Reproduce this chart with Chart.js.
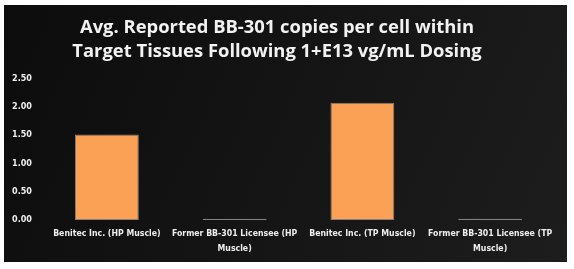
<!DOCTYPE html>
<html>
<head>
<meta charset="utf-8">
<script src="https://cdn.jsdelivr.net/npm/chart.js@4.4.1/dist/chart.umd.min.js"></script>
<style>
html,body{margin:0;padding:0;background:#fff;}
#wrap{width:574px;height:269px;position:relative;}
</style>
</head>
<body>
<div id="wrap"><canvas id="c" width="574" height="269"></canvas></div>
<script>
const titleLines = ["Avg. Reported BB-301 copies per cell within", "Target Tissues Following 1+E13 vg/mL Dosing"];
const categories = [
  ["Benitec Inc. (HP Muscle)"],
  ["Former BB-301 Licensee (HP", "Muscle)"],
  ["Benitec Inc. (TP Muscle)"],
  ["Former BB-301 Licensee (TP", "Muscle)"]
];
const copiesPerCell = [1.51, 0.02, 2.07, 0.02];
const yTicks = [0, 0.5, 1.0, 1.5, 2.0, 2.5];

const panelBg = {
  id: 'panelBg',
  beforeDraw(chart) {
    const ctx = chart.ctx;
    ctx.save();
    ctx.fillStyle = '#ffffff';
    ctx.fillRect(0, 0, chart.width, chart.height);
    const g = ctx.createLinearGradient(4, 5, 567, 262);
    g.addColorStop(0, '#0c0c0c');
    g.addColorStop(1, '#1d1d1d');
    ctx.fillStyle = g;
    ctx.fillRect(4, 5, 563, 257);
    ctx.restore();
  }
};

const labelFont = "'DejaVu Sans Condensed','Open Sans',sans-serif";

new Chart(document.getElementById('c'), {
  type: 'bar',
  data: {
    labels: categories,
    datasets: [{
      data: copiesPerCell,
      backgroundColor: '#fba155',
      borderColor: '#858078',
      borderWidth: 1,
      borderSkipped: false,
      categoryPercentage: 1.0,
      barPercentage: 0.5
    }]
  },
  options: {
    responsive: false,
    animation: false,
    devicePixelRatio: 1,
    layout: { padding: { left: 0, right: 20, top: 0, bottom: 0 } },
    plugins: {
      legend: { display: false },
      tooltip: { enabled: false },
      title: {
        display: true,
        text: titleLines,
        color: '#f2f2f2',
        font: { family: "'Open Sans',sans-serif", size: 18.4, weight: 'bold', lineHeight: 1.34 },
        padding: { top: 15, bottom: 14 }
      }
    },
    scales: {
      x: {
        grid: { display: false, drawTicks: false },
        border: { display: false },
        ticks: {
          color: '#eeeeee',
          font: { family: labelFont, size: 8.7, weight: 'bold', lineHeight: 1.65 },
          padding: 7,
          maxRotation: 0,
          autoSkip: false
        },
        afterFit(axis) { axis.height = 49; }
      },
      y: {
        min: 0,
        max: 2.5,
        afterBuildTicks(axis) { axis.ticks = yTicks.map(v => ({ value: v })); },
        grid: { display: false, drawTicks: false },
        border: { display: false },
        ticks: {
          color: '#eeeeee',
          font: { family: labelFont, size: 9, weight: 'bold' },
          padding: 11,
          callback: v => Number(v).toFixed(2)
        },
        afterFit(axis) { axis.width = 43; }
      }
    }
  },
  plugins: [panelBg]
});
</script>
</body>
</html>
